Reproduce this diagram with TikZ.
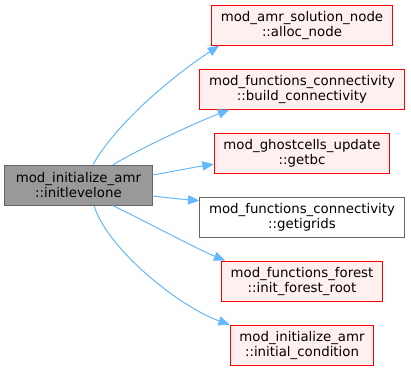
\documentclass[tikz,border=0pt]{standalone}
\usepackage{fontspec}
\setmainfont{DejaVu Sans}
\usetikzlibrary{arrows.meta,calc}
\definecolor{edgeblue}{HTML}{63B8FF}
\definecolor{callfill}{HTML}{FFF0F0}
\definecolor{rootfill}{HTML}{999999}
\definecolor{graybord}{HTML}{666666}
\begin{document}
\begin{tikzpicture}[x=0.75pt,y=-0.75pt,
  fn/.style={draw, line width=0.75pt, align=center,
    font=\fontsize{10}{11.25}\selectfont,
    inner xsep=6.9pt, inner ysep=2pt, minimum height=30pt},
  rootfn/.style={fn, draw=graybord, fill=rootfill, minimum width=110.5pt},
  callfn/.style={fn, draw=red, fill=callfill},
  plainfn/.style={fn, draw=graybord, fill=white},
  call/.style={draw=edgeblue, line width=0.75pt,
    -{Triangle[length=8.5pt,width=7pt]}}]
\useasboundingbox (0,0) rectangle (411,371);

% caller
\node[rootfn] (root) at (78.4,185.2) {mod\_initialize\_amr\\::initlevelone};

% callees
\node[callfn]  (n1) at (302,25.2)  {mod\_amr\_solution\_node\\::alloc\_node};
\node[callfn]  (n2) at (302,89.2)  {mod\_functions\_connectivity\\::build\_connectivity};
\node[callfn]  (n3) at (302,153.2) {mod\_ghostcells\_update\\::getbc};
\node[plainfn] (n4) at (302,217.2) {mod\_functions\_connectivity\\::getigrids};
\node[callfn]  (n5) at (302,281.2) {mod\_functions\_forest\\::init\_forest\_root};
\node[callfn]  (n6) at (302,345.2) {mod\_initialize\_amr\\::initial\_condition};

% call edges
\draw[call] ($(root.north)+(14.6,0)$) .. controls (118,120) and (180,71) .. ($(n1.south west)+(8,0)$);
\draw[call] ($(root.north)+(34.6,0)$) .. controls (143,147) and (195,123) .. ($(n2.south west)+(30,0)$);
\draw[call] ($(root.east)+(0,-10.2)$) .. controls (170,172) and (190,168) .. ($(n3.west)+(0,11)$);
\draw[call] ($(root.east)+(0,10.8)$) .. controls (170,198) and (185,199.5) .. ($(n4.north west)+(0,4)$);
\draw[call] ($(root.south)+(34.6,0)$) .. controls (143,220) and (195,248) .. ($(n5.north west)+(4.3,0)$);
\draw[call] ($(root.south)+(15.6,0)$) .. controls (108,250) and (180,307) .. (n6.north west);
\end{tikzpicture}
\end{document}
